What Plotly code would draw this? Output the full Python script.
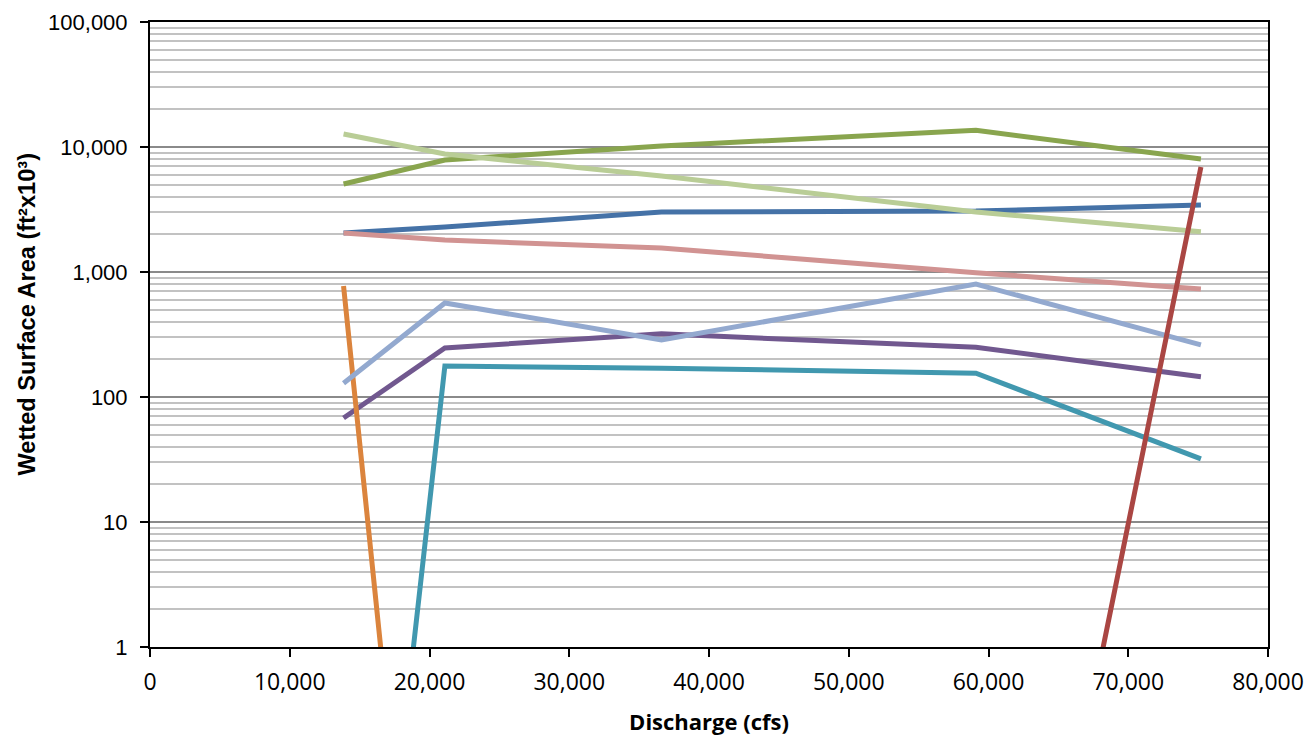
import plotly.graph_objects as go

# Discharge (cfs) sample points
DISCHARGE = [13850, 21100, 36600, 59100, 75200]

# Wetted surface area (ft^2 x 10^3); 0 = no wetted area (drawn at the log floor)
SERIES = {
    "blue":        [2050, 2290, 3020, 3070, 3430],
    "red":         [0, 0, 0, 0, 6920],
    "green":       [5060, 7870, 10190, 13600, 8020],
    "purple":      [68, 247, 320, 250, 145],
    "teal":        [0, 177, 170, 155, 32],
    "orange":      [773, 0, 0, 0, 0],
    "light_blue":  [129, 565, 286, 800, 261],
    "pink":        [2050, 1800, 1556, 985, 731],
    "light_green": [12700, 8790, 5860, 3020, 2100],
}
COLORS = {
    "blue": "#4572A7", "red": "#AA4643", "green": "#89A54E",
    "purple": "#71588F", "teal": "#4198AF", "orange": "#DB843D",
    "light_blue": "#93A9CF", "pink": "#D19392", "light_green": "#B9CD96",
}
ZERO_FLOOR = 1e-5
DRAW_ORDER = ["blue", "green", "purple", "teal", "orange",
              "light_blue", "pink", "light_green", "red"]

X_TICKS = list(range(0, 80001, 10000))
Y_TICKS = [1, 10, 100, 1000, 10000, 100000]
Y_TITLE = "<b>Wetted Surface Area (ft²x10³)</b>"
X_TITLE = "<b>Discharge (cfs)</b>"

fig = go.Figure()
for name in DRAW_ORDER:
    vals = [v if v > 0 else ZERO_FLOOR for v in SERIES[name]]
    fig.add_trace(go.Scatter(
        x=DISCHARGE, y=vals, mode="lines", name=name,
        line=dict(color=COLORS[name], width=5), showlegend=False,
        cliponaxis=True, hoverinfo="skip",
    ))

fig.update_layout(
    width=1309, height=736,
    margin=dict(l=150, r=41, t=22, b=89, autoexpand=False),
    paper_bgcolor="white", plot_bgcolor="white",
)
fig.update_xaxes(
    range=[0, 80000], tickvals=X_TICKS,
    ticktext=[f"{v:,}" for v in X_TICKS],
    showgrid=False, zeroline=False,
    showline=True, linecolor="black", linewidth=2, mirror=True,
    ticks="outside", ticklen=8, tickwidth=2, tickcolor="black",
    ticklabelstandoff=5, ticklabeloverflow="allow",
    tickfont=dict(family="Open Sans", size=23, color="black"),
    title=dict(text=X_TITLE,
               font=dict(family="Open Sans", size=22, color="black"),
               standoff=21),
    automargin=False,
)
fig.update_yaxes(
    type="log", range=[0, 5], tickvals=Y_TICKS,
    ticktext=[f"{v:,}" for v in Y_TICKS],
    showgrid=True, gridcolor="#8a8a8a", gridwidth=2,
    zeroline=False,
    showline=True, linecolor="black", linewidth=2, mirror=True,
    ticks="outside", ticklen=8, tickwidth=2, tickcolor="black",
    ticklabelstandoff=8, ticklabeloverflow="allow",
    tickfont=dict(family="Liberation Sans", size=22, color="black"),
    minor=dict(dtick="D1", showgrid=True, gridcolor="#c2c2c2",
               gridwidth=2, ticks=""),
    automargin=False,
)
fig.add_annotation(
    text=Y_TITLE, textangle=-90, showarrow=False,
    xref="paper", yref="paper", x=-0.1109, y=0.532,
    xanchor="center", yanchor="middle",
    font=dict(family="Liberation Sans", size=23.6, color="black"),
)

fig.write_html("out.html", config={"displayModeBar": False},
               post_script="document.body.style.margin='0';")
